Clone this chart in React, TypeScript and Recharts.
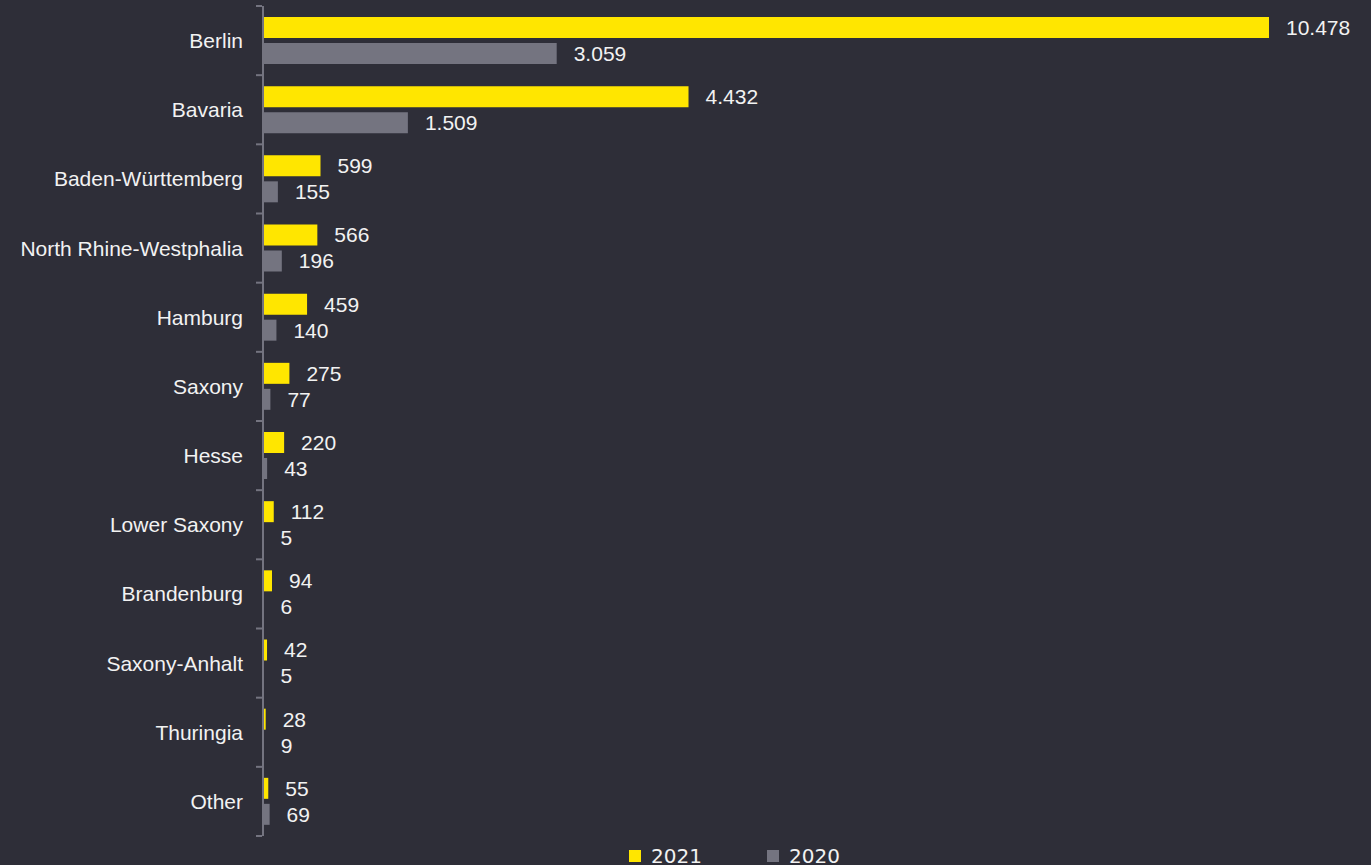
import { BarChart, Bar, XAxis, YAxis, LabelList } from 'recharts'

const states = [
  'Berlin',
  'Bavaria',
  'Baden-Württemberg',
  'North Rhine-Westphalia',
  'Hamburg',
  'Saxony',
  'Hesse',
  'Lower Saxony',
  'Brandenburg',
  'Saxony-Anhalt',
  'Thuringia',
  'Other',
]
const values2021 = [10478, 4432, 599, 566, 459, 275, 220, 112, 94, 42, 28, 55]
const values2020 = [3059, 1509, 155, 196, 140, 77, 43, 5, 6, 5, 9, 69]
const seriesNames = ['2021', '2020']

const data = states.map((name, i) => ({
  name,
  y2021: values2021[i],
  y2020: values2020[i],
}))

const BG = '#2e2e38'
const YELLOW = '#ffe600'
const GREY = '#747480'
const AXIS = '#747480'
const TEXT = '#f2f2f2'
const FONT = "'Liberation Sans', Arial, sans-serif"

const W = 1371
const H = 865
const TOP = 6
const BOTTOM = 29
const LEFT = 263
const RIGHT = 102
const BAND = (H - TOP - BOTTOM) / states.length

if (typeof document !== 'undefined') {
  document.body.style.margin = '0'
  document.body.style.background = BG
}

const fmt = (v: any) => String(v).replace(/\B(?=(\d{3})+(?!\d))/g, '.')

function CategoryTick(props: any) {
  const { y, payload, index } = props
  const top = y - BAND / 2
  return (
    <g>
      <line x1={256} x2={262} y1={top} y2={top} stroke={AXIS} strokeWidth={2} />
      {index === states.length - 1 && (
        <line x1={256} x2={262} y1={top + BAND} y2={top + BAND} stroke={AXIS} strokeWidth={2} />
      )}
      <text
        x={243}
        y={y}
        textAnchor="end"
        dominantBaseline="central"
        fill={TEXT}
        style={{ fontFamily: FONT, fontSize: 21 }}
      >
        {payload.value}
      </text>
    </g>
  )
}

export default function App() {
  return (
    <div
      style={{
        position: 'relative',
        width: W,
        height: H,
        background: BG,
        overflow: 'hidden',
      }}
    >
      <BarChart
        width={W}
        height={H}
        data={data}
        layout="vertical"
        barSize={21}
        barGap={5}
        margin={{ top: TOP, right: RIGHT, bottom: BOTTOM, left: 0 }}
      >
        <XAxis type="number" hide domain={[0, 10478]} />
        <YAxis
          type="category"
          dataKey="name"
          width={LEFT}
          axisLine={{ stroke: AXIS, strokeWidth: 2 }}
          tickLine={false}
          tick={<CategoryTick />}
          interval={0}
        />
        <Bar dataKey="y2021" name={seriesNames[0]} fill={YELLOW} isAnimationActive={false}>
          <LabelList
            dataKey="y2021"
            position="right"
            offset={17}
            formatter={fmt}
            fill={TEXT}
            style={{ fontFamily: FONT, fontSize: 21 }}
          />
        </Bar>
        <Bar dataKey="y2020" name={seriesNames[1]} fill={GREY} isAnimationActive={false}>
          <LabelList
            dataKey="y2020"
            position="right"
            offset={17}
            formatter={fmt}
            fill={TEXT}
            style={{ fontFamily: FONT, fontSize: 21 }}
          />
        </Bar>
      </BarChart>
      <div
        style={{
          position: 'absolute',
          left: 629,
          top: 844,
          display: 'flex',
          alignItems: 'center',
          fontFamily: "'DejaVu Sans', Verdana, sans-serif",
          fontSize: 20,
          lineHeight: '24px',
          color: TEXT,
        }}
      >
        {seriesNames.map((s, i) => (
          <div key={s} style={{ display: 'flex', alignItems: 'center', width: 138 }}>
            <span
              style={{
                display: 'inline-block',
                width: 12,
                height: 12,
                marginRight: 10,
                background: i === 0 ? YELLOW : GREY,
              }}
            />
            <span>{s}</span>
          </div>
        ))}
      </div>
    </div>
  )
}
